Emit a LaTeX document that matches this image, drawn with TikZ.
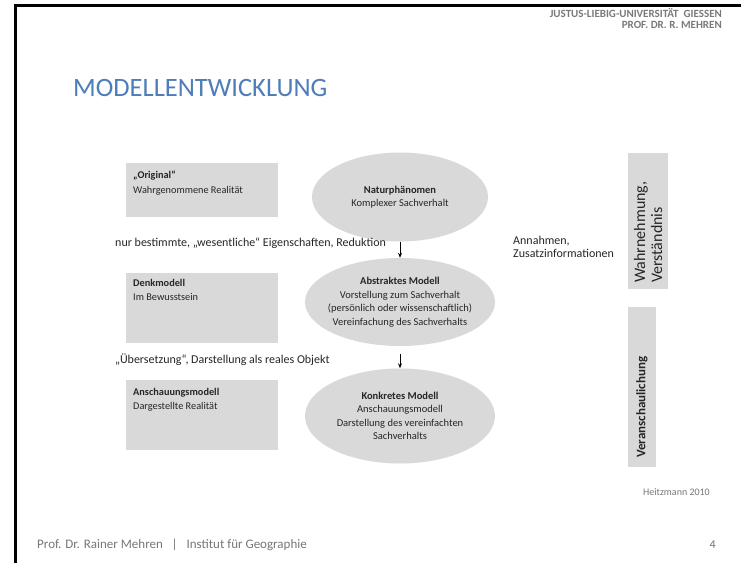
\documentclass[tikz,border=0pt]{standalone}
\usepackage{fontspec}
\setmainfont{Carlito}
\usetikzlibrary{shapes.geometric,arrows.meta}
\definecolor{boxgray}{HTML}{D9D9D9}
\definecolor{titleblue}{HTML}{4F7DBA}
\definecolor{headgray}{HTML}{7A7A7A}
\definecolor{footgray}{HTML}{777777}
\tikzset{
  lbox/.style={fill=boxgray, draw=none, anchor=north west, minimum width=152pt,
    inner sep=0pt},
  ell/.style={ellipse, fill=boxgray, draw=none, inner sep=0pt},
  elltext/.style={align=center, inner sep=0pt, text=black!85,
    font=\fontsize{10.5}{13.5}\selectfont},
  boxtext/.style={anchor=north west, align=left, inner sep=0pt,
    font=\fontsize{10.3}{14.5}\selectfont, text=black!85},
  note/.style={anchor=west, inner sep=0pt, font=\fontsize{12}{12.5}\selectfont,
    text=black!85},
  vbox/.style={fill=boxgray, draw=none, anchor=north west, inner sep=0pt},
  flow/.style={-{Stealth[length=5pt,width=4pt]}, line width=0.8pt, black},
  frame/.style={line width=3pt, black},
  small/.style={inner sep=0pt, text=footgray}
}
\begin{document}
\begin{tikzpicture}[x=1pt,y=-1pt]
\useasboundingbox (0,0) rectangle (741,563);
\fill[white] (0,0) rectangle (741,563);
% slide frame
\draw[frame] (15,563) -- (15,5.5) -- (741,5.5);

% header
\node[anchor=north east, align=right, inner sep=0pt, text=headgray,
  font=\fontsize{11}{10.5}\selectfont\bfseries] (head) at (722,8.5)
  {JUSTUS-LIEBIG-UNIVERSITÄT\ \ GIESSEN\\PROF. DR. R. MEHREN};

% title
\node[anchor=west, inner sep=0pt, text=titleblue,
  font=\fontsize{26.5}{30}\selectfont] (title) at (73,88) {MODELLENTWICKLUNG};

% left boxes
\node[lbox, minimum height=54pt] (b1) at (126,163) {};
\node[boxtext] (t1) at (133,171) {\textbf{„Original“}\\Wahrgenommene Realität};
\node[lbox, minimum height=70pt] (b2) at (126,273) {};
\node[boxtext] (t2) at (133,279) {\textbf{Denkmodell}\\Im Bewusstsein};
\node[lbox, minimum height=70pt] (b3) at (126,380) {};
\node[boxtext] (t3) at (133,388) {\textbf{Anschauungsmodell}\\Dargestellte Realität};

% ellipses (shapes) and their texts
\node[ell, minimum width=176pt, minimum height=89pt] (e1) at (400,197) {};
\node[elltext] (e1t) at (e1.center) {\textbf{Naturphänomen}\\Komplexer Sachverhalt};
\node[ell, minimum width=190pt, minimum height=88pt] (e2) at (400,302) {};
\node[elltext] (e2t) at (e2.center)
  {\textbf{Abstraktes Modell}\\Vorstellung zum Sachverhalt\\(persönlich oder wissenschaftlich)\\Vereinfachung des Sachverhalts};
\node[ell, minimum width=190pt, minimum height=95pt] (e3) at (400,416) {};
\node[elltext] (e3t) at (e3.center)
  {\textbf{Konkretes Modell}\\Anschauungsmodell\\Darstellung des vereinfachten\\Sachverhalts};

\draw[flow] (e1.south) -- (e2.north);
\draw[flow, shorten <=8pt] (e2.south) -- (e3.north);

% side notes
\node[note] (n1) at (115,243) {nur bestimmte, „wesentliche“ Eigenschaften, Reduktion};
\node[note, anchor=north west, align=left, font=\fontsize{12}{13}\selectfont] (n2) at (513,236) {Annahmen,\\Zusatzinformationen};
\node[note] (n3) at (115,360) {„Übersetzung“, Darstellung als reales Objekt};

% vertical boxes on the right
\node[vbox, minimum width=40pt, minimum height=136pt] (v1) at (628,153) {};
\node[rotate=90, anchor=west, align=left, inner sep=0pt, text=black!85,
  font=\fontsize{16}{17}\selectfont] (v1t) at (648,283) {Wahrnehmung,\\Verständnis};
\node[vbox, minimum width=28pt, minimum height=160pt] (v2) at (628,307) {};
\node[rotate=90, anchor=west, inner sep=0pt, text=black!85,
  font=\fontsize{13}{14}\selectfont\bfseries] (v2t) at (642,458) {Veranschaulichung};

% source and footer
\node[small, anchor=east, font=\fontsize{10}{12}\selectfont]
  (src) at (710,492) {Heitzmann 2010};
\node[small, anchor=west, font=\fontsize{13}{14}\selectfont]
  (foot) at (37,545) {Prof. Dr. Rainer Mehren\ \ \ |\ \ \ Institut für Geographie};
\node[small, anchor=east, font=\fontsize{12}{13}\selectfont]
  (page) at (716,545) {4};
\end{tikzpicture}
\end{document}
